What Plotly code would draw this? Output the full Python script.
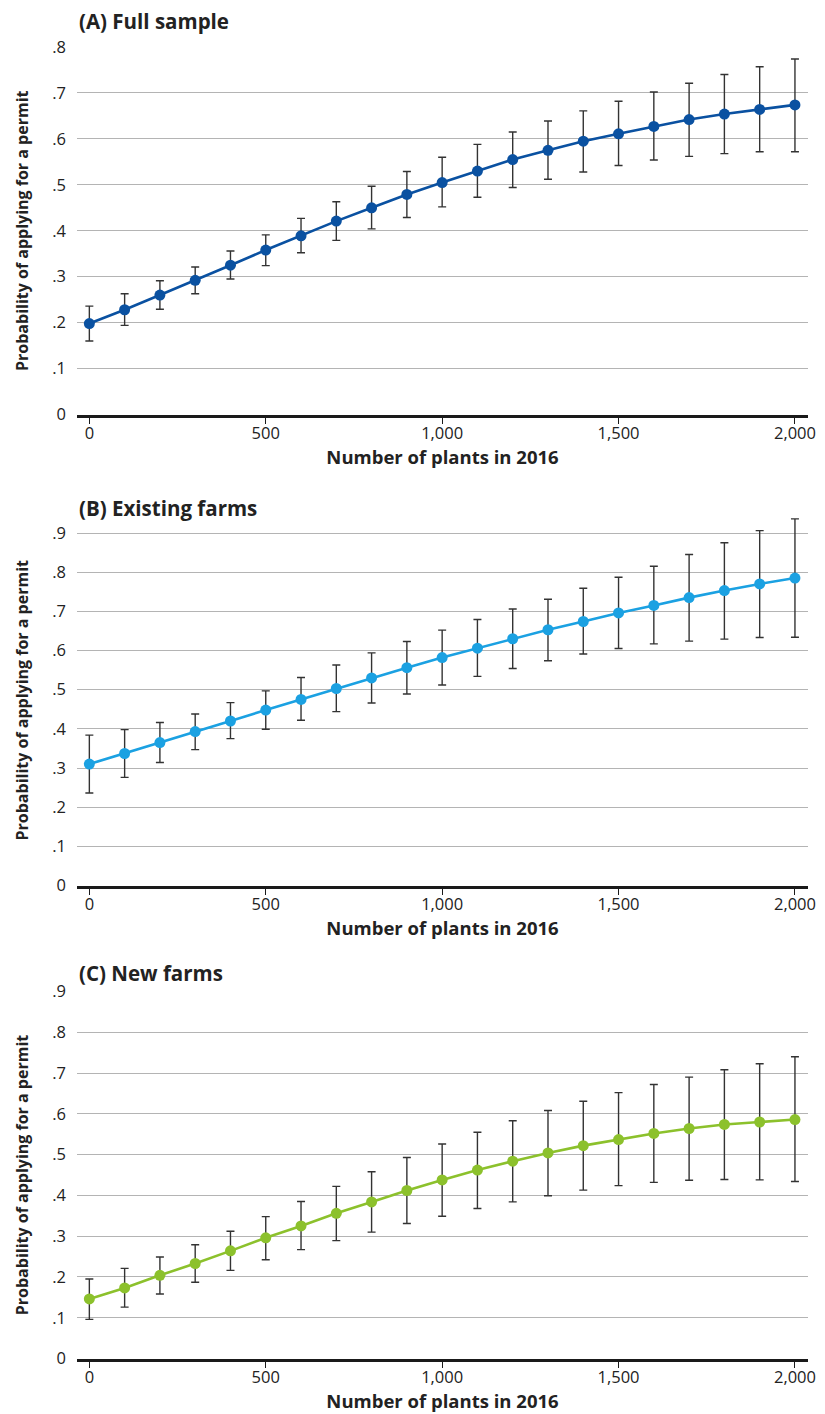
import plotly.graph_objects as go

plants = [0, 100, 200, 300, 400, 500, 600, 700, 800, 900, 1000,
          1100, 1200, 1300, 1400, 1500, 1600, 1700, 1800, 1900, 2000]

# (A) Full sample
full_p = [.198, .228, .260, .292, .325, .358, .389, .421, .450, .479, .505,
          .530, .555, .575, .595, .611, .627, .642, .654, .664, .674]
full_hi = [.236, .263, .291, .321, .356, .391, .427, .463, .497, .529, .560,
           .588, .615, .639, .661, .682, .702, .721, .740, .757, .774]
full_lo = [.160, .194, .229, .263, .295, .324, .352, .379, .404, .429, .452,
           .473, .494, .512, .528, .542, .554, .562, .568, .572, .572]

# (B) Existing farms
exist_p = [.310, .337, .365, .393, .420, .448, .475, .503, .530, .556, .582,
           .606, .630, .653, .674, .696, .715, .735, .753, .770, .785]
exist_hi = [.384, .398, .416, .438, .467, .497, .531, .563, .594, .623, .652,
            .679, .706, .731, .759, .787, .815, .845, .875, .906, .936]
exist_lo = [.236, .276, .314, .347, .375, .399, .422, .444, .466, .489, .512,
            .534, .554, .574, .591, .605, .617, .624, .629, .633, .634]

# (C) New farms
new_p = [.146, .173, .204, .233, .264, .296, .325, .356, .384, .412, .438,
         .462, .484, .504, .522, .537, .552, .564, .574, .580, .586]
new_hi = [.195, .221, .249, .279, .312, .348, .385, .422, .458, .493, .526,
          .555, .583, .608, .631, .652, .672, .690, .708, .723, .740]
new_lo = [.096, .126, .158, .187, .216, .242, .267, .289, .310, .331, .349,
          .368, .384, .399, .413, .424, .432, .437, .439, .438, .434]

panels = [
    ("(A) Full sample", full_p, full_hi, full_lo, "#0a51a1", 0.8),
    ("(B) Existing farms", exist_p, exist_hi, exist_lo, "#1ba1e2", 0.9),
    ("(C) New farms", new_p, new_hi, new_lo, "#8cc12c", 0.9),
]

# the page body has an 8px margin, so the figure sits at (8, 8)
OFF = 8
W, H = 825 - OFF, 1414 - OFF
# pixel rows (page coords) of each panel: top gridline, zero line, title centre
boxes = [(47, 414.5, 21), (533, 885.5, 508), (991.5, 1358.5, 973)]
x_left, x_right = 77, 808


def px(x):
    return (x - OFF) / W


def py(y):
    return 1 - (y - OFF) / H


FONT = "Open Sans"
fig = go.Figure()

for i, (title, p, hi, lo, col, ymax) in enumerate(panels):
    n = "" if i == 0 else str(i + 1)
    fig.add_trace(go.Scatter(
        x=plants, y=p, mode="lines+markers",
        line=dict(color=col, width=2.6),
        marker=dict(color=col, size=11),
        error_y=dict(type="data", symmetric=False,
                     array=[h - v for h, v in zip(hi, p)],
                     arrayminus=[v - l for v, l in zip(p, lo)],
                     color="#333333", thickness=1.4, width=4),
        cliponaxis=False, showlegend=False,
        xaxis="x" + n, yaxis="y" + n))

    top, bot, ttl = boxes[i]
    # let the top whisker poke above the last gridline
    ytop = max(ymax, max(hi) + 0.01)
    px_per = (bot - top) / ymax
    top_px = bot - ytop * px_per
    ticks = [k / 10 for k in range(int(round(ymax * 10)) + 1)]
    fig.layout["yaxis" + n] = dict(
        domain=[py(bot), py(top_px)], range=[0, ytop],
        anchor="x" + n, tickvals=ticks, automargin=False,
        ticktext=["0"] + [("%.1f" % t)[1:] for t in ticks[1:]],
        showgrid=True, gridcolor="#b4b4b4", gridwidth=1.2,
        zeroline=False, ticks="", ticklabelstandoff=10,
        tickfont=dict(family=FONT, size=16.5, color="#222"),
        title=dict(text="<b>Probability of applying for a permit</b>",
                   font=dict(family=FONT, size=16, color="#222"),
                   standoff=19))
    fig.layout["xaxis" + n] = dict(
        domain=[px(x_left), px(x_right)], range=[-35, 2037],
        anchor="y" + n, tickvals=[0, 500, 1000, 1500, 2000],
        ticktext=["0", "500", "1,000", "1,500", "2,000"],
        showgrid=False, zeroline=False, automargin=False,
        showline=True, linecolor="#1a1a1a", linewidth=3,
        ticks="outside", ticklen=6, tickwidth=1.2, tickcolor="#1a1a1a",
        ticklabelstandoff=-4,
        tickfont=dict(family=FONT, size=16.5, color="#222"),
        title=dict(text="<b>Number of plants in 2016</b>",
                   font=dict(family=FONT, size=18.5, color="#222"),
                   standoff=8))

    fig.add_annotation(text="<b>" + title + "</b>", xref="paper", yref="paper",
                       x=px(x_left), y=py(ttl),
                       xanchor="left", yanchor="middle", showarrow=False,
                       font=dict(family=FONT, size=20.5, color="#222"))

fig.update_layout(width=W, height=H, margin=dict(l=0, r=0, t=0, b=0),
                  paper_bgcolor="white", plot_bgcolor="white")

fig.write_html("out.html")
